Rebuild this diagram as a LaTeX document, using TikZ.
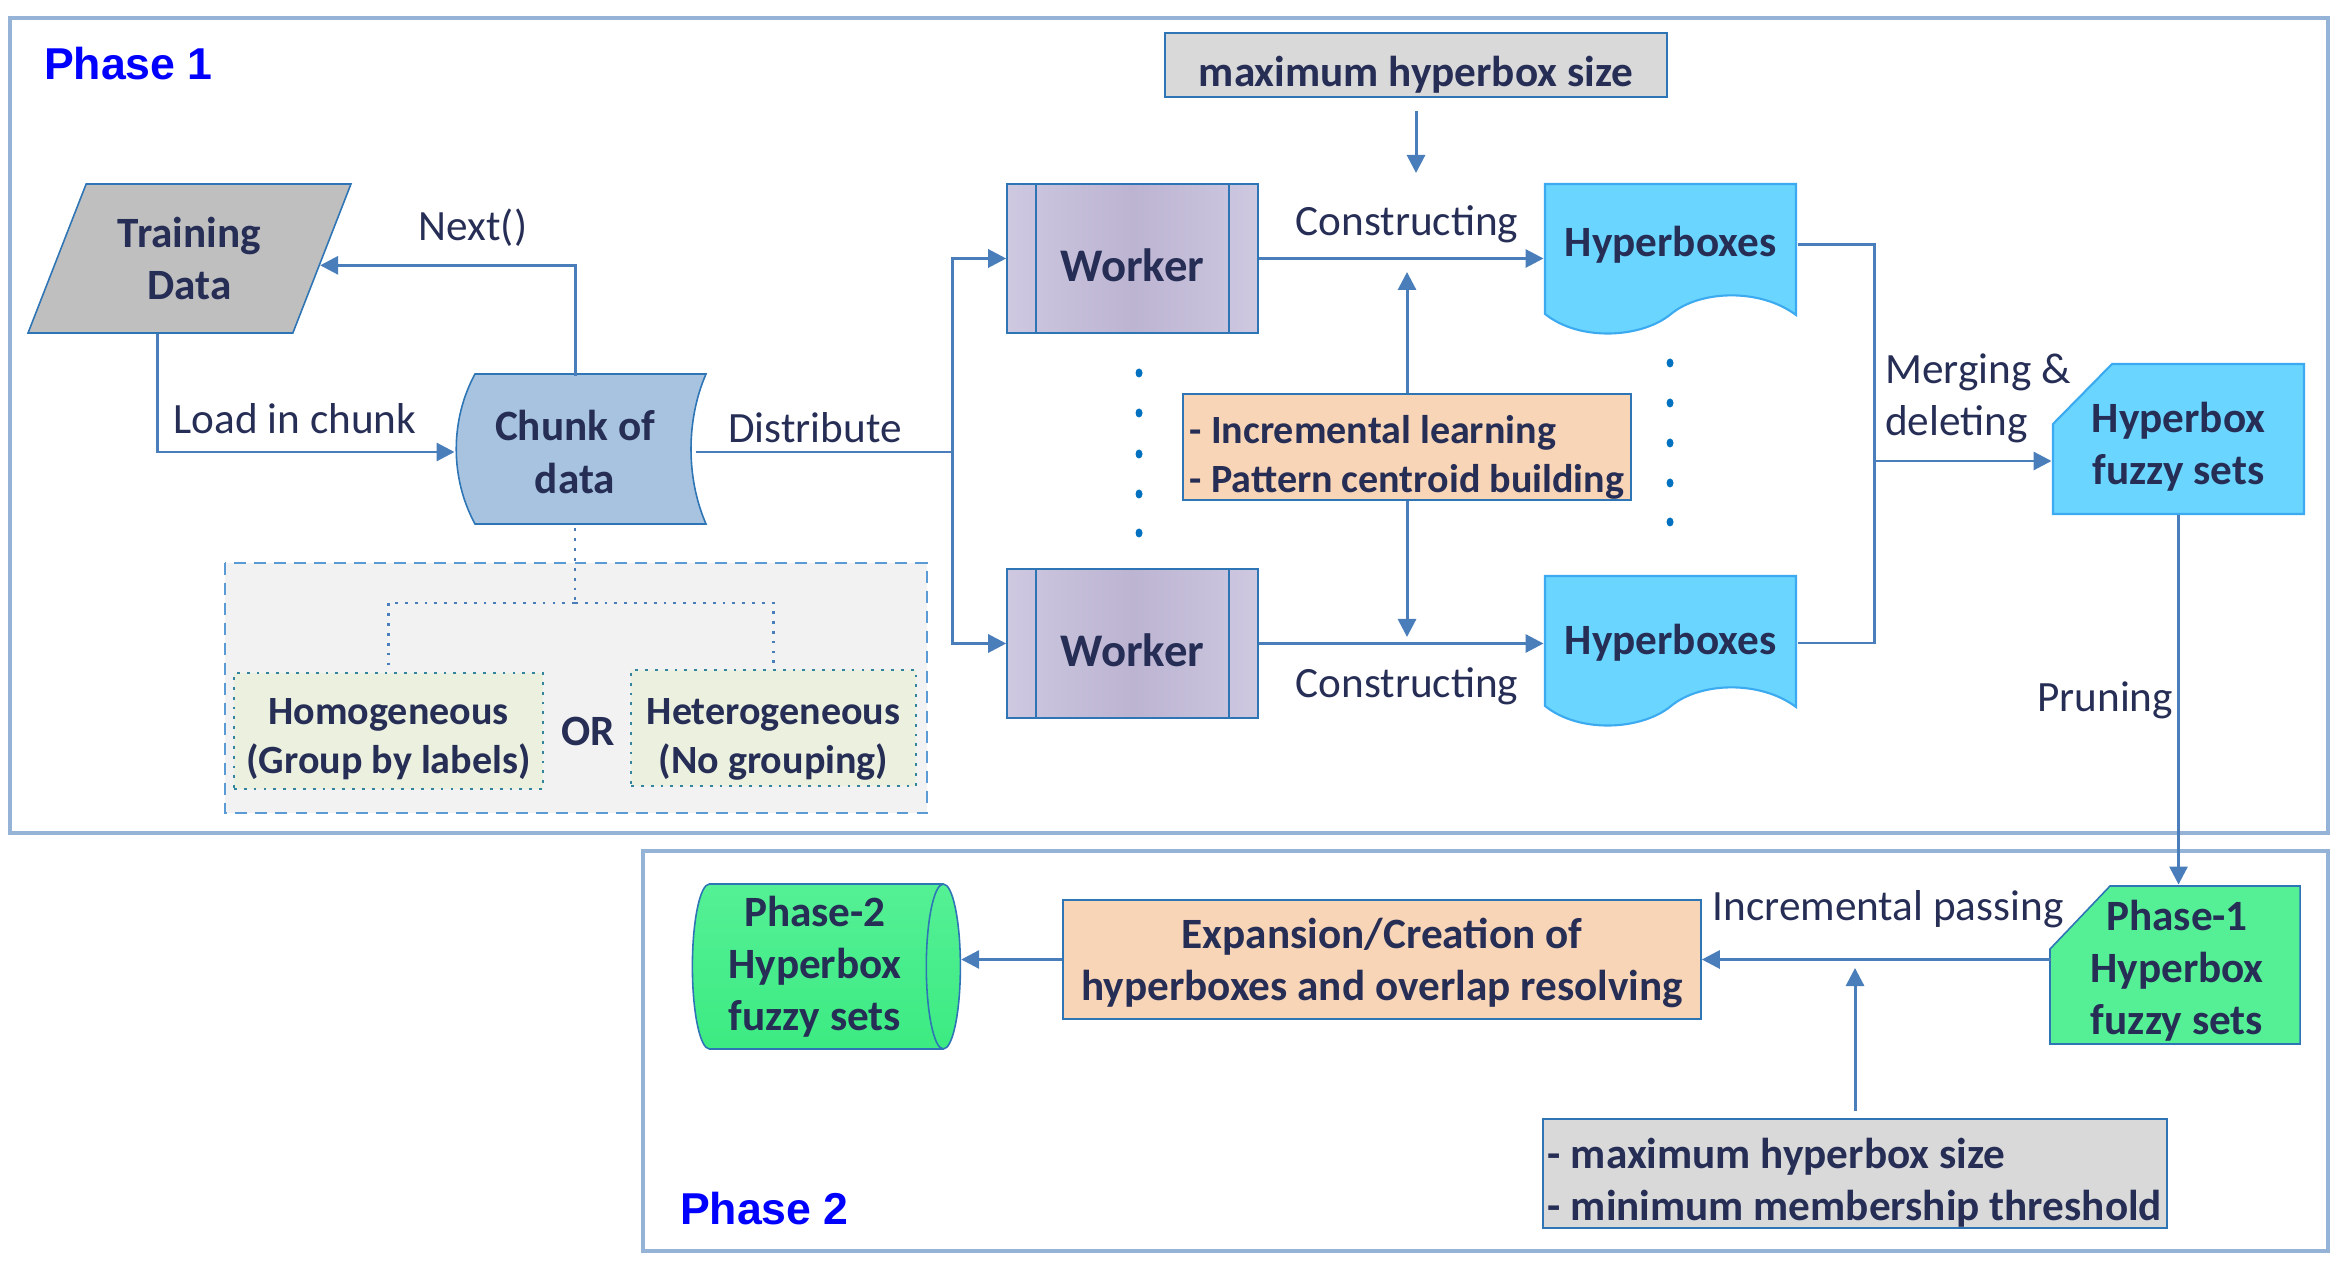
\documentclass[tikz,border=0pt]{standalone}
\usepackage{fontspec}
\setmainfont{Carlito}
\newfontfamily\phasefont{Liberation Sans}
\usetikzlibrary{shapes.geometric,arrows.meta}
\definecolor{navy}{RGB}{38,46,86}
\definecolor{phaseblue}{RGB}{0,0,255}
\definecolor{framec}{RGB}{149,179,215}
\definecolor{wirec}{RGB}{74,126,187}
\definecolor{edgec}{RGB}{46,117,182}
\definecolor{tdgray}{RGB}{191,191,191}
\definecolor{chunkc}{RGB}{167,195,223}
\definecolor{wkl}{RGB}{206,200,225}
\definecolor{wkm}{RGB}{188,180,209}
\definecolor{hbc}{RGB}{106,213,254}
\definecolor{hbb}{RGB}{60,170,240}
\definecolor{dotc}{RGB}{0,112,192}
\definecolor{greyc}{RGB}{217,217,217}
\definecolor{peachc}{RGB}{248,213,183}
\definecolor{regionc}{RGB}{242,242,242}
\definecolor{regionb}{RGB}{91,155,213}
\definecolor{homc}{RGB}{235,241,222}
\definecolor{homb}{RGB}{49,133,156}
\definecolor{greenc}{RGB}{85,240,149}
\definecolor{greend}{RGB}{60,235,130}
\begin{document}
\begin{tikzpicture}[x=0.1mm,y=-0.1mm,line width=0.85pt,
  every node/.style={font=\fontsize{12.3}{14.8}\selectfont,text=navy,inner sep=1pt},
  bx/.style={font=\fontsize{12.3}{14.8}\selectfont\bfseries,align=center},
  smallbx/.style={bx,font=\fontsize{11.4}{13.9}\selectfont\bfseries},
  phaselbl/.style={anchor=west,font=\phasefont\fontsize{12.7}{15}\selectfont\bfseries,text=phaseblue},
  phaseframe/.style={draw=framec,line width=1.1pt},
  wire/.style={draw=wirec,line width=0.85pt},
  arr/.style={wire,-{Triangle[length=1.8mm,width=1.8mm]}},
  outl/.style={draw=edgec,line width=0.45pt},
  dotline/.style={draw=wirec,line width=0.8pt,dotted}]
\useasboundingbox (0,0) rectangle (2340,1273);
\draw[phaseframe] (10,18) rectangle (2328,833);
\draw[phaseframe] (643,851) rectangle (2328,1251);
\node[phaselbl] (ph1) at (39,64) {Phase 1};
\node[phaselbl] (ph2) at (675,1209) {Phase 2};
\path[fill=regionc,draw=regionb,line width=0.6pt,dash pattern=on 3.4pt off 2.3pt] (225,563) rectangle (927,813);
\node[bx,trapezium,trapezium left angle=64.8,trapezium right angle=115.2,trapezium stretches=true,minimum width=32.5mm,minimum height=14.9mm,fill=tdgray,outl] (td) at (189.5,258.5) {Training\\Data};
\path[fill=chunkc,outl] (475,374) -- (706,374) .. controls (686,420) and (686,478) .. (706,524) -- (475,524) .. controls (450,478) and (450,420) .. (475,374) -- cycle;
\node[bx,minimum width=23.8mm,minimum height=15mm] (chk) at (575,452) {Chunk of\\data};
\node[smallbx,minimum width=30.9mm,minimum height=11.6mm,text height=8.5mm,text depth=0pt,fill=homc,draw=homb,dotted,line width=0.8pt] (hom) at (388.5,731) {Homogeneous\\(Group by labels)};
\node[smallbx,minimum width=28.5mm,minimum height=11.6mm,text height=9.1mm,text depth=0pt,fill=homc,draw=homb,dotted,line width=0.8pt] (het) at (773.5,728) {Heterogeneous\\(No grouping)};
\node[bx] (orn) at (588,731) {OR};
\node[bx,font=\fontsize{13.3}{16}\selectfont\bfseries,minimum width=25.1mm,minimum height=14.9mm,text height=4.6mm,text depth=0pt,outl,left color=wkl,right color=wkl,middle color=wkm] (wk1) at (1132.5,258.5) {Worker};
\node[bx,font=\fontsize{13.3}{16}\selectfont\bfseries,minimum width=25.1mm,minimum height=14.9mm,text height=4.6mm,text depth=0pt,outl,left color=wkl,right color=wkl,middle color=wkm] (wk2) at (1132.5,643.5) {Worker};
\draw[outl] ([xshift=3mm]wk1.north west) -- ([xshift=3mm]wk1.south west);
\draw[outl] ([xshift=-3mm]wk1.north east) -- ([xshift=-3mm]wk1.south east);
\draw[outl] ([xshift=3mm]wk2.north west) -- ([xshift=3mm]wk2.south west);
\draw[outl] ([xshift=-3mm]wk2.north east) -- ([xshift=-3mm]wk2.south east);
\path[fill=hbc,draw=hbb,line width=0.6pt] (1545,184) -- (1796,184) -- (1796,315) .. controls (1760,288) and (1700,290) .. (1671,314) .. controls (1642,338) and (1580,342) .. (1545,314) -- cycle;
\path[fill=hbc,draw=hbb,line width=0.6pt] (1545,576) -- (1796,576) -- (1796,707) .. controls (1760,680) and (1700,682) .. (1671,706) .. controls (1642,730) and (1580,734) .. (1545,706) -- cycle;
\node[bx,minimum width=25.1mm,minimum height=11.8mm] (hb1) at (1670.5,245) {Hyperboxes};
\node[bx,minimum width=25.1mm,minimum height=12.8mm] (hb2) at (1670.5,643) {Hyperboxes};
\fill[dotc] (1139,373) ellipse[x radius=0.35mm,y radius=0.45mm];
\fill[dotc] (1139,413) ellipse[x radius=0.35mm,y radius=0.45mm];
\fill[dotc] (1139,454) ellipse[x radius=0.35mm,y radius=0.45mm];
\fill[dotc] (1139,494) ellipse[x radius=0.35mm,y radius=0.45mm];
\fill[dotc] (1139,533) ellipse[x radius=0.35mm,y radius=0.45mm];
\fill[dotc] (1670,363) ellipse[x radius=0.35mm,y radius=0.45mm];
\fill[dotc] (1670,403) ellipse[x radius=0.35mm,y radius=0.45mm];
\fill[dotc] (1670,443) ellipse[x radius=0.35mm,y radius=0.45mm];
\fill[dotc] (1670,483) ellipse[x radius=0.35mm,y radius=0.45mm];
\fill[dotc] (1670,522) ellipse[x radius=0.35mm,y radius=0.45mm];
\node[bx,minimum width=50.2mm,minimum height=6.4mm,text height=4.4mm,text depth=0pt,fill=greyc,outl] (mhs) at (1416,65) {maximum hyperbox size};
\node[smallbx,align=left,minimum width=44.8mm,minimum height=10.6mm,text height=9.1mm,text depth=0pt,fill=peachc,outl] (inc) at (1407,447) {- Incremental learning\\- Pattern centroid building};
\path[fill=hbc,draw=hbb,line width=0.6pt] (2112,364) -- (2304,364) -- (2304,514) -- (2053,514) -- (2053,424) -- cycle;
\node[bx,minimum width=25.1mm,minimum height=13.4mm] (fz) at (2178.5,447) {Hyperbox\\fuzzy sets};
\path[fill=greenc,outl] (2110,886) -- (2300,886) -- (2300,1044) -- (2050,1044) -- (2050,949) -- cycle;
\node[bx,minimum width=25mm,minimum height=17mm] (p1) at (2177,971) {Phase-1\\Hyperbox\\fuzzy sets};
\node[bx,minimum width=63.8mm,minimum height=11.9mm,text depth=0pt,fill=peachc,outl] (exp) at (1382,959.5) {Expansion/Creation of\\hyperboxes and overlap resolving};
\node[bx,cylinder,shape aspect=0.23,minimum width=16.5mm,minimum height=26.8mm,top color=greenc,bottom color=greend,outl] (p2) at (815,966.5) {Phase-2\\Hyperbox\\fuzzy sets};
\node[bx,align=left,minimum width=62.4mm,minimum height=10.9mm,text height=9.45mm,text depth=0pt,fill=greyc,outl] (prm) at (1855,1173.5) {- maximum hyperbox size\\- minimum membership threshold};
\coordinate (dj) at (952,449);
\coordinate (dsp) at (575,603);
\coordinate (mhe) at (1416,173);
\coordinate (inu) at (1407,272);
\coordinate (ind) at (1407,637);
\coordinate (mj) at (1874,461);
\coordinate (prt) at (1855,968);
\draw[arr] (chk.north) |- (td.-3.5);
\draw[arr] ([xshift=-3.2mm]td.south) |- (chk.west);
\draw[wire] (chk.east) -- (chk.east -| dj);
\draw[arr] (dj) |- (wk1.west);
\draw[arr] (dj) |- (wk2.west);
\draw[dotline] (chk.south) -- (dsp);
\draw[dotline] (dsp) -| (hom.north);
\draw[dotline] (dsp) -| (het.north);
\draw[arr] (wk1.east) -- (wk1.east -| hb1.west);
\draw[arr] (wk2.east) -- (wk2.east -| hb2.west);
\draw[arr,shorten <=1.3mm] (mhs.south) -- (mhe);
\draw[arr] (inc.north) -- (inu);
\draw[arr] (inc.south) -- (ind);
\draw[wire] (hb1.east) -| (mj);
\draw[wire] (hb2.east) -| (mj);
\draw[arr] (mj) -- (mj -| fz.west);
\draw[arr] (fz.south) -- (fz.south |- p1.north);
\draw[arr] (p1.west |- exp.east) -- (exp.east);
\draw[arr] (exp.west) -- (exp.west -| p2.east);
\draw[arr,shorten <=0.7mm] (prm.north) -- (prt);
\node (nxt) at (473,228) {Next()};
\node (ldc) at (295,419) {Load in chunk};
\node (dst) at (815,428) {Distribute};
\node (cst1) at (1407,224) {Constructing};
\node (cst2) at (1407,686) {Constructing};
\node[anchor=west,align=left] (mrg) at (1880,398) {Merging \&\\deleting};
\node[anchor=east] (prn) at (2178,700) {Pruning};
\node (ipl) at (1888,909) {Incremental passing};
\end{tikzpicture}
\end{document}
